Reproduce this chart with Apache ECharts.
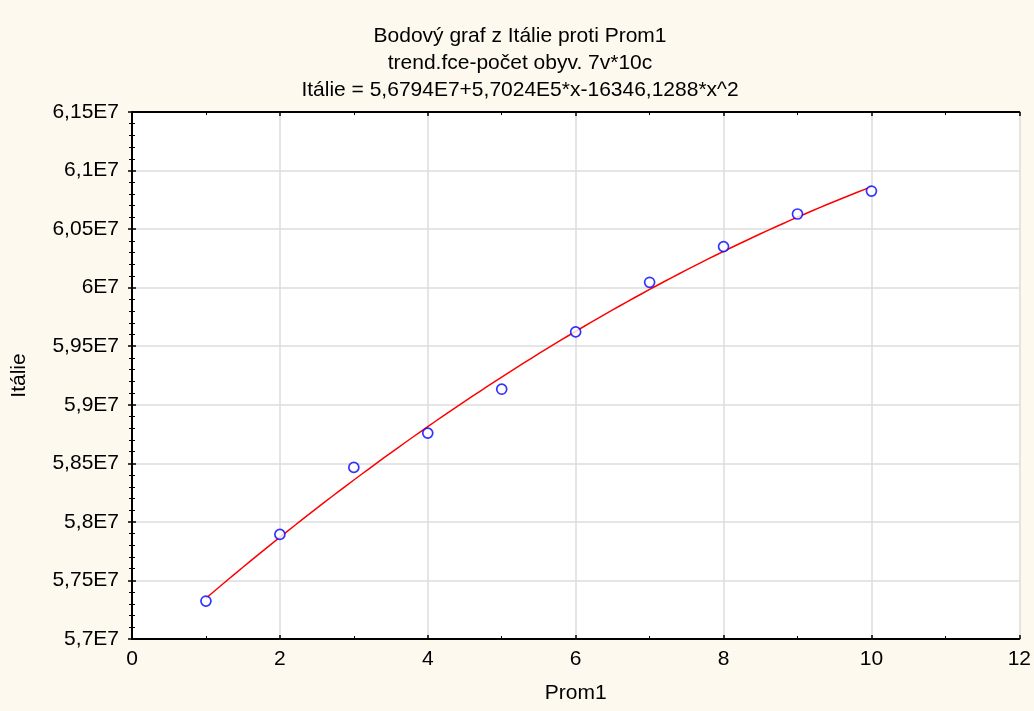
<!DOCTYPE html>
<html>
<head>
<meta charset="utf-8">
<script src="https://cdn.jsdelivr.net/npm/echarts@6/dist/echarts.min.js"></script>
<style>
  html, body { margin: 0; padding: 0; background: #fdf9ee; }
  #chart { width: 1034px; height: 711px; }
</style>
</head>
<body>
<div id="chart"></div>
<script>
// Observed values: Prom1 (x) and Itálie population (y)
const prom1 = [1, 2, 3, 4, 5, 6, 7, 8, 9, 10];
const italie = [57324000, 57893000, 58465000, 58758000, 59133000,
                59622000, 60046000, 60351000, 60629000, 60825000];

// Quadratic trend coefficients: y = c0 + c1*x + c2*x^2
const trendCoef = [5.6794E7, 5.7024E5, -16346.1288];

const titleLines = [
  'Bodový graf z Itálie proti Prom1',
  'trend.fce-počet obyv. 7v*10c',
  'Itálie = 5,6794E7+5,7024E5*x-16346,1288*x^2'
];

// Trend curve sampled across the observed x range
const trendPts = [];
for (let i = 0; i <= 90; i++) {
  const x = prom1[0] + i * (prom1[prom1.length - 1] - prom1[0]) / 90;
  trendPts.push([x, trendCoef[0] + trendCoef[1] * x + trendCoef[2] * x * x]);
}

const FONT = '"Liberation Sans", Arial, sans-serif';
const FS = 21;
const fmtY = v => parseFloat((v / 1e7).toFixed(3)).toString().replace('.', ',') + 'E7';

const frameLine = { show: true, lineStyle: { color: '#000', width: 2 } };
const frameTick = { show: true, inside: true, length: 4, lineStyle: { color: '#000', width: 1.5 } };
const minor = n => ({ show: true, splitNumber: n, length: 3, lineStyle: { color: '#000', width: 1 } });

const chart = echarts.init(document.getElementById('chart'));
chart.setOption({
  backgroundColor: '#fdf9ee',
  animation: false,
  title: {
    text: titleLines.join('\n'),
    left: 515, top: 18, textAlign: 'center',
    textStyle: { fontFamily: FONT, fontSize: FS, fontWeight: 'normal', color: '#000', lineHeight: 27 }
  },
  grid: {
    left: 132, top: 112, right: 10, bottom: 72,
    show: true, backgroundColor: '#ffffff', borderWidth: 0
  },
  xAxis: [
    {
      type: 'value', min: 0, max: 12, interval: 2,
      name: 'Prom1', nameLocation: 'middle', nameGap: 44,
      nameTextStyle: { fontFamily: FONT, fontSize: FS, color: '#000' },
      axisLabel: { fontFamily: FONT, fontSize: FS, color: '#000', margin: 10 },
      axisLine: frameLine, axisTick: frameTick, minorTick: minor(2),
      splitLine: { show: true, lineStyle: { color: '#dcdcdc', width: 1.5 } }
    },
    {
      type: 'value', position: 'top', min: 0, max: 12, interval: 2,
      axisLabel: { show: false }, splitLine: { show: false },
      axisLine: frameLine, axisTick: frameTick, minorTick: minor(2)
    }
  ],
  yAxis: [
    {
      type: 'value', min: 57000000, max: 61500000, interval: 500000,
      name: 'Itálie', nameLocation: 'middle', nameGap: 102, nameRotate: 90,
      nameTextStyle: { fontFamily: FONT, fontSize: FS, color: '#000' },
      axisLabel: { fontFamily: FONT, fontSize: FS, color: '#000', margin: 13, formatter: fmtY },
      axisLine: frameLine, axisTick: frameTick, minorTick: minor(5),
      splitLine: { show: true, lineStyle: { color: '#dcdcdc', width: 1.5 } }
    },
    {
      type: 'value', position: 'right', min: 57000000, max: 61500000, interval: 500000,
      axisLabel: { show: false }, splitLine: { show: false },
      axisLine: frameLine, axisTick: frameTick, minorTick: minor(5)
    }
  ],
  series: [
    {
      type: 'line', data: trendPts, showSymbol: false, smooth: false,
      lineStyle: { color: '#ff0000', width: 1.5 }, z: 2
    },
    {
      type: 'scatter', data: prom1.map((x, i) => [x, italie[i]]),
      symbol: 'circle', symbolSize: 10,
      itemStyle: { color: '#ffffff', borderColor: '#0000ff', borderWidth: 1.7 }, z: 3
    }
  ]
});
</script>
</body>
</html>
